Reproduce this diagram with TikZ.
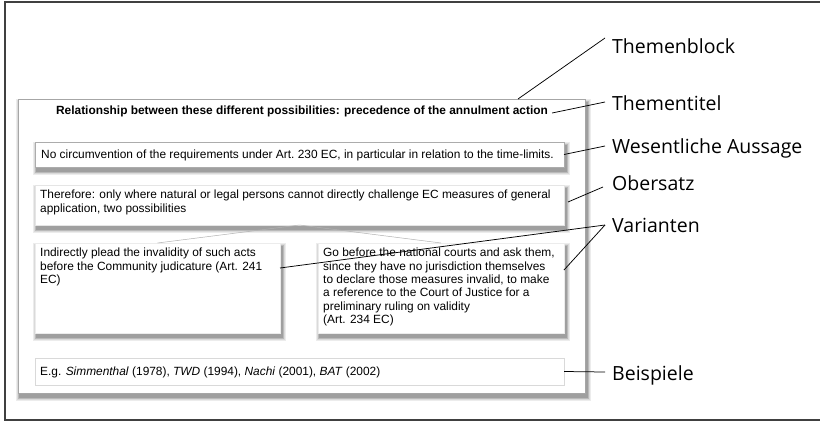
\documentclass[tikz,border=0pt]{standalone}
\usepackage{fontspec}
\setmainfont{Liberation Sans}
\newfontfamily\labfont{Open Sans}
\newcommand\softshadow[4]{%
  \foreach \i in {1,...,6}{%
    \fill[black,opacity=0.075] ({#1+2-\i*0.6},{#2+4-\i*0.6}) rectangle ({#3+2+\i*0.6},{#4+4+\i*0.6});}}
\begin{document}
\begin{tikzpicture}[x=1pt,y=-1pt,
  font=\fontsize{11.9}{13.3}\selectfont,
  box/.style={draw=#1, fill=white, line width=0.6pt, anchor=north west, inner sep=0pt, outer sep=0pt},
  txt/.style={anchor=north west, inner sep=0pt, align=left},
  lab/.style={anchor=base west, inner sep=0pt, font=\labfont\fontsize{19.5}{24}\selectfont},
  leader/.style={black, line width=0.75pt},
  split/.style={gray!60, line width=0.5pt}]
\useasboundingbox (0,0) rectangle (820,421);
\clip (0,0) rectangle (820,421);
\fill[white] (0,0) rectangle (820,421);
\draw[black!75, line width=1.2pt] (5,2) rectangle (840,420);

% Themenblock
\softshadow{18}{99}{585}{393}
\node[box=gray!70, minimum width=567pt, minimum height=294pt] (tb) at (18,99) {};
\node[font=\bfseries\fontsize{11.9}{13.3}\selectfont, inner sep=0pt] (title) at (302,111)
  {Relationship between these different possibilities: precedence of the annulment action};

% inner boxes
\softshadow{35}{142}{564}{167}
\softshadow{35}{185}{564}{225}
\softshadow{35}{243}{280}{333}
\softshadow{318}{243}{564}{333}
\node[box=gray!65, minimum width=529pt, minimum height=25pt] (wa) at (35,142) {};
\node[box=gray!20, minimum width=529pt, minimum height=40pt] (os) at (35,185) {};
\node[box=gray!15, minimum width=245pt, minimum height=90pt] (v1) at (35,243) {};
\node[box=gray!15, minimum width=246pt, minimum height=90pt] (v2) at (318,243) {};
\node[box=gray!30, minimum width=529pt, minimum height=27pt] (bs) at (35,358) {};

\node[txt, anchor=west] (watext) at (41,155)
  {No circumvention of the requirements under Art.~230 EC, in particular in relation to the time-limits.};
\node[txt] (ostext) at (40,190)
  {Therefore: only where natural or legal persons cannot directly challenge EC measures of general\\application, two possibilities};
\node[txt] (v1text) at (40,248)
  {Indirectly plead the invalidity of such acts\\before the Community judicature (Art. 241\\EC)};
\node[txt] (v2text) at (323,248)
  {Go before the national courts and ask them,\\since they have no jurisdiction themselves\\to declare those measures invalid, to make\\a reference to the Court of Justice for a\\preliminary ruling on validity\\(Art. 234 EC)};
\node[txt, anchor=west] (bstext) at (40,372)
  {E.g. \textit{Simmenthal} (1978), \textit{TWD} (1994), \textit{Nachi} (2001), \textit{BAT} (2002)};

\draw[split] (v1.north) -- (os.south) -- (v2.north);

% labels
\node[lab] (l1) at (612,53) {Themenblock};
\node[lab] (l2) at (612,110) {Thementitel};
\node[lab] (l3) at (612,153) {Wesentliche Aussage};
\node[lab] (l4) at (612,190) {Obersatz};
\node[lab] (l5) at (612,232) {Varianten};
\node[lab] (l6) at (612,380) {Beispiele};

\coordinate (p1) at (518,99);
\draw[leader] (p1) -- ([shift={(-7,-15)}]l1.base west);
\draw[leader] ([shift={(4,2)}]title.east) -- ([shift={(-7,-8)}]l2.base west);
\draw[leader] (wa.east) -- ([shift={(-7,-7)}]l3.base west);
\draw[leader] ([shift={(4,-3)}]os.east) -- ([shift={(-9,-3)}]l4.base west);
\draw[leader] ([shift={(0,25)}]v1.north east) -- ([shift={(-7,-7)}]l5.base west);
\draw[leader] ([shift={(0,27)}]v2.north east) -- ([shift={(-7,-7)}]l5.base west);
\draw[leader] (bs.east) -- ([shift={(-7,-8)}]l6.base west);
\end{tikzpicture}
\end{document}
